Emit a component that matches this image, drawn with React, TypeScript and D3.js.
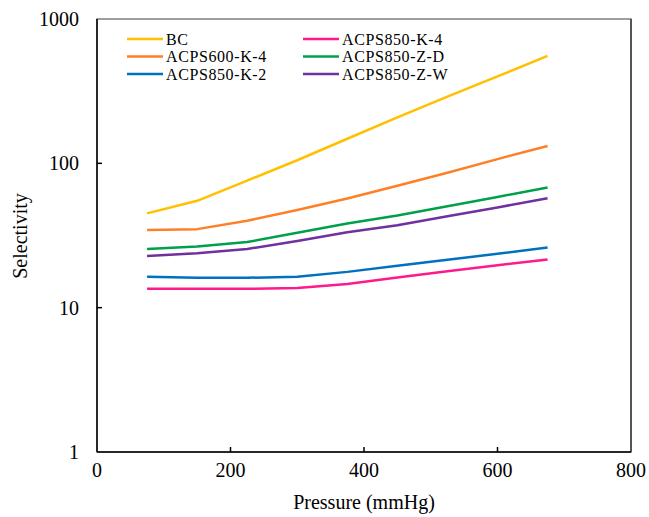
import React from "react";
import * as d3 from "d3";

// Pressure points (mmHg)
const pressure = [75, 150, 225, 300, 375, 450, 525, 600, 675];

// Selectivity per sample
const seriesNames = ["BC", "ACPS600-K-4", "ACPS850-K-2", "ACPS850-K-4", "ACPS850-Z-D", "ACPS850-Z-W"];
const bc = [45, 55, 76, 105, 148, 208, 290, 400, 555];
const acps600K4 = [34.5, 35, 40, 47.5, 57, 70, 86, 107, 132];
const acps850K2 = [16.4, 16.1, 16.1, 16.4, 17.7, 19.5, 21.5, 23.6, 26.1];
const acps850K4 = [13.5, 13.5, 13.5, 13.7, 14.6, 16.2, 17.9, 19.7, 21.6];
const acps850ZD = [25.5, 26.5, 28.5, 33, 38.3, 43.5, 50.5, 58.5, 68];
const acps850ZW = [22.8, 23.8, 25.5, 29, 33.3, 37.3, 43, 49.5, 57.3];
const seriesColors = ["#FFC000", "#FF7F27", "#0070C0", "#FF1A8C", "#00A04A", "#7030A0"];

const xTicks = [0, 200, 400, 600, 800];
const yTicks = [1, 10, 100, 1000];

const W = 649;
const H = 517;
const left = 97;
const right = 631;
const top = 19;
const bottom = 452;
const font = "'Liberation Serif', 'Times New Roman', serif";

export default function App() {
  const x = d3.scaleLinear().domain([0, 800]).range([left, right]);
  const y = d3.scaleLog().domain([1, 1000]).range([bottom, top]);
  const line = d3
    .line<number>()
    .x((_, i) => x(pressure[i]))
    .y((v) => y(v));

  const data = [bc, acps600K4, acps850K2, acps850K4, acps850ZD, acps850ZW];

  // legend: two columns of three rows
  const legendPos = [
    [127, 39],
    [127, 56.5],
    [127, 74],
    [303, 39],
    [303, 56.5],
    [303, 74],
  ];

  return (
    <svg
      width={W}
      height={H}
      style={{ position: "absolute", left: 0, top: 0, background: "#fff" }}
      fontFamily={font}
    >
      <rect x={0} y={0} width={W} height={H} fill="#fff" />
      {/* plot frame */}
      <rect
        x={left}
        y={top}
        width={right - left}
        height={bottom - top}
        fill="none"
        stroke="#7f7f7f"
        strokeWidth={1.5}
      />
      <line x1={right} x2={right} y1={top} y2={bottom} stroke="#555" strokeWidth={2} />
      {/* axes */}
      <line x1={left} x2={left} y1={top} y2={bottom} stroke="#000" strokeWidth={1.5} />
      <line x1={left} x2={right} y1={bottom} y2={bottom} stroke="#000" strokeWidth={1.5} />

      {yTicks.map((t) => (
        <g key={"y" + t}>
          {t > 1 && t < 1000 && (
            <line x1={left} x2={left + 5} y1={y(t)} y2={y(t)} stroke="#000" strokeWidth={1.5} />
          )}
          <text x={79} y={y(t)} dy="0.35em" textAnchor="end" fontSize={20} fill="#000">
            {t}
          </text>
        </g>
      ))}
      {xTicks.map((t) => (
        <g key={"x" + t}>
          {t > 0 && t < 800 && (
            <line x1={x(t)} x2={x(t)} y1={bottom} y2={bottom - 5} stroke="#000" strokeWidth={1.5} />
          )}
          <text x={x(t)} y={477} textAnchor="middle" fontSize={20} fill="#000">
            {t}
          </text>
        </g>
      ))}

      <text x={364} y={509} textAnchor="middle" fontSize={20} fill="#000">
        Pressure (mmHg)
      </text>
      <text
        transform={`translate(27, 236) rotate(-90)`}
        textAnchor="middle"
        fontSize={20}
        fill="#000"
      >
        Selectivity
      </text>

      {data.map((d, i) => (
        <path
          key={seriesNames[i]}
          d={line(d) || ""}
          fill="none"
          stroke={seriesColors[i]}
          strokeWidth={2.5}
          strokeLinejoin="round"
        />
      ))}

      {seriesNames.map((name, i) => {
        const [lx, ly] = legendPos[i];
        return (
          <g key={"lg" + name}>
            <line x1={lx} x2={lx + 36} y1={ly} y2={ly} stroke={seriesColors[i]} strokeWidth={2.5} />
            <text x={lx + 39} y={ly} dy="0.35em" fontSize={16} letterSpacing={0.6} fill="#000">
              {name}
            </text>
          </g>
        );
      })}
    </svg>
  );
}
